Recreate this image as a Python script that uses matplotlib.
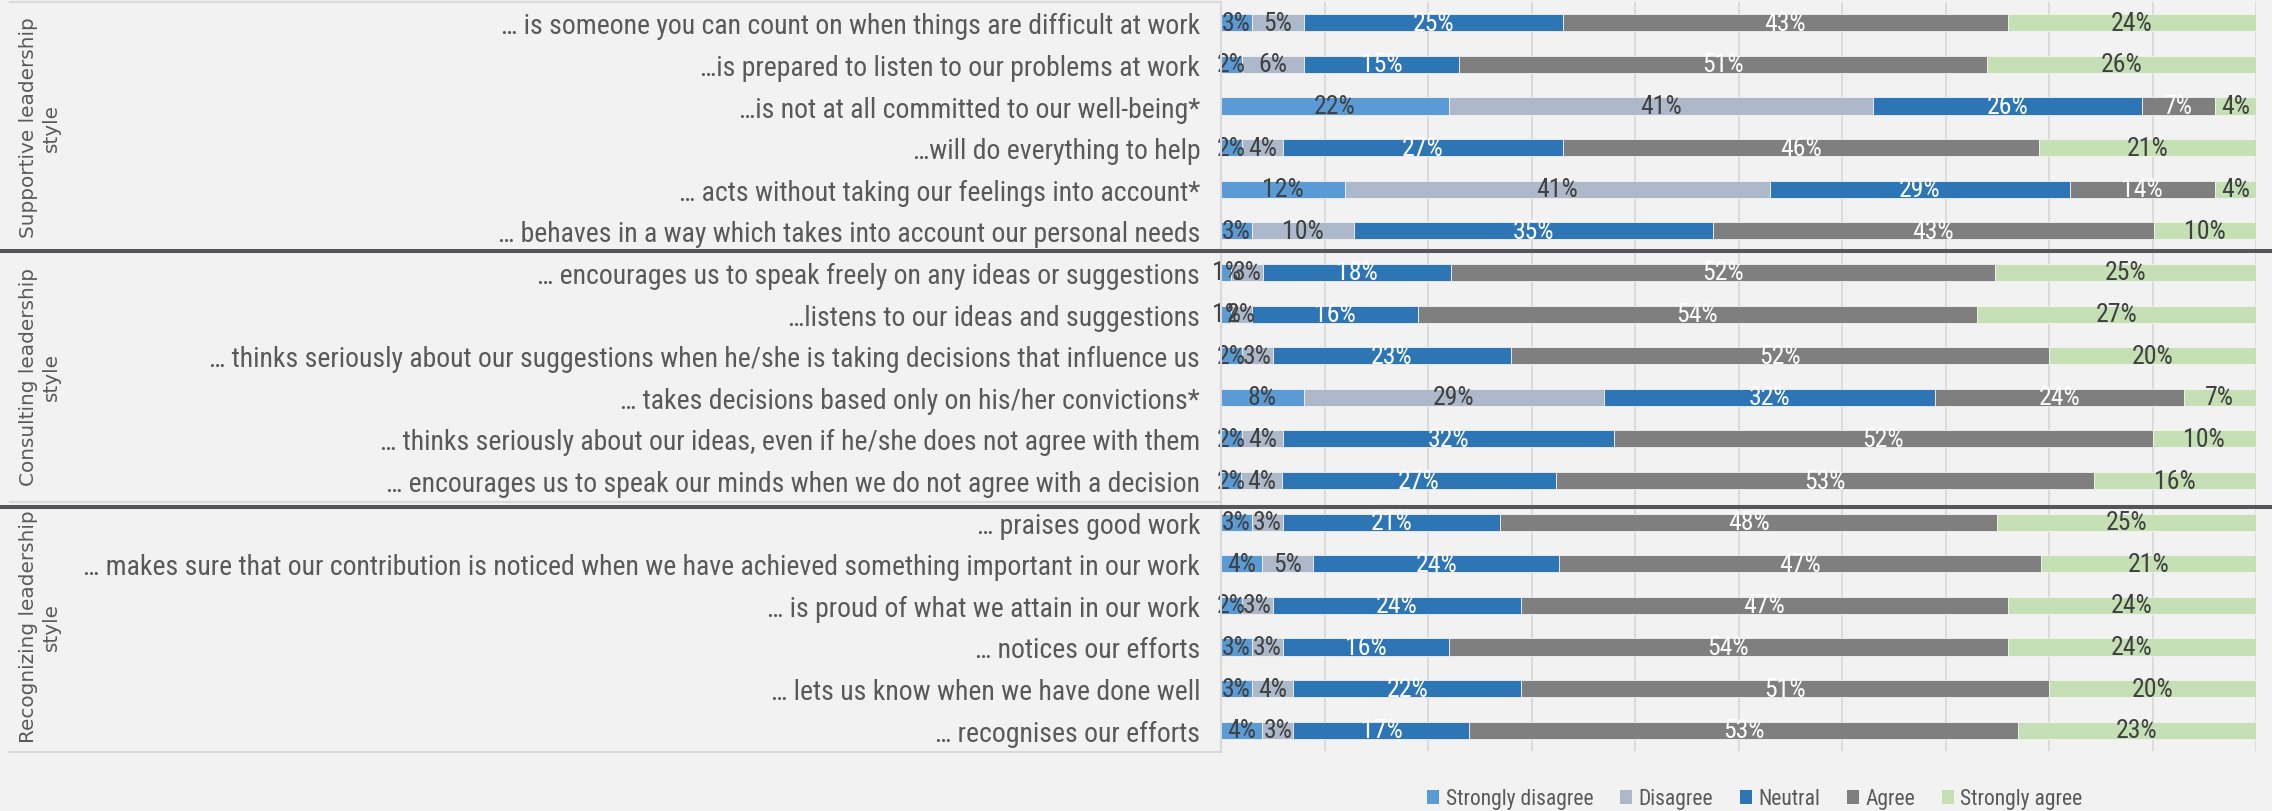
import matplotlib
matplotlib.use("Agg")
import matplotlib.pyplot as plt
import numpy as np
from matplotlib import font_manager as fm
from matplotlib.font_manager import FontProperties
from matplotlib.lines import Line2D
from matplotlib.patches import Patch
from matplotlib import transforms

# survey items, top to bottom
items = [
    "… is someone you can count on when things are difficult at work",
    "…is prepared to listen to our problems at work",
    "…is not at all committed to our well-being*",
    "…will do everything to help",
    "… acts without taking our feelings into account*",
    "… behaves in a way which takes into account our personal needs",
    "… encourages us to speak freely on any ideas or suggestions",
    "…listens to our ideas and suggestions",
    "… thinks seriously about our suggestions when he/she is taking decisions that influence us",
    "… takes decisions based only on his/her convictions*",
    "… thinks seriously about our ideas, even if he/she does not agree with them",
    "… encourages us to speak our minds when we do not agree with a decision",
    "… praises good work",
    "… makes sure that our contribution is noticed when we have achieved something important in our work",
    "… is proud of what we attain in our work",
    "… notices our efforts",
    "… lets us know when we have done well",
    "… recognises our efforts",
]

groups = ["Supportive leadership\nstyle", "Consulting leadership\nstyle", "Recognizing leadership\nstyle"]
group_rows = [(0, 5), (6, 11), (12, 17)]

answers = ["Strongly disagree", "Disagree", "Neutral", "Agree", "Strongly agree"]

strongly_disagree = [3, 2, 22, 2, 12, 3, 1, 1, 2, 8, 2, 2, 3, 4, 2, 3, 3, 4]
disagree          = [5, 6, 41, 4, 41, 10, 3, 2, 3, 29, 4, 4, 3, 5, 3, 3, 4, 3]
neutral           = [25, 15, 26, 27, 29, 35, 18, 16, 23, 32, 32, 27, 21, 24, 24, 16, 22, 17]
agree             = [43, 51, 7, 46, 14, 43, 52, 54, 52, 24, 52, 53, 48, 47, 47, 54, 51, 53]
strongly_agree    = [24, 26, 4, 21, 4, 10, 25, 27, 20, 7, 10, 16, 25, 21, 24, 24, 20, 23]

colors = ["#5B9BD5", "#ADB9CA", "#2E75B6", "#7F7F7F", "#C5E0B4"]
label_colors = ["#404040", "#404040", "white", "white", "#404040"]
bg = "#F2F2F2"
text_gray = "#595959"

# pick a narrow font for the category and value labels
names = {f.name for f in fm.fontManager.ttflist}
dv_cond = any(f.name == "DejaVu Sans" and str(f.stretch) in ("condensed", "semi-condensed")
              for f in fm.fontManager.ttflist)
if "Liberation Sans Narrow" in names:
    cond = FontProperties(family="Liberation Sans Narrow")
    item_size, val_size, leg_size = 19.5, 18, 16.5
elif "Roboto Condensed" in names:
    cond = FontProperties(family="Roboto Condensed")
    item_size, val_size, leg_size = 20, 18.5, 15.5
elif dv_cond:
    cond = FontProperties(family="DejaVu Sans", stretch="condensed")
    item_size, val_size, leg_size = 16.5, 15.5, 14
else:
    cond = FontProperties(family="Liberation Sans")
    item_size, val_size, leg_size = 16, 15.5, 14


def fp(size):
    p = cond.copy()
    p.set_size(size)
    return p


W, H = 2272, 812
fig = plt.figure(figsize=(W / 100, H / 100), dpi=100, facecolor=bg)
x0, x1, y0, y1 = 1221, 2256, 3, 752
ax = fig.add_axes([x0 / W, 1 - y1 / H, (x1 - x0) / W, (y1 - y0) / H])
ax.set_facecolor(bg)

data = np.array([strongly_disagree, disagree, neutral, agree, strongly_agree], dtype=float)
totals = data.sum(axis=0)
shares = data / totals * 100
ypos = np.arange(len(items))

left = np.zeros(len(items))
for k in range(len(answers)):
    ax.barh(ypos, shares[k], left=left, height=0.41, color=colors[k],
            edgecolor=bg, linewidth=0.6, label=answers[k], zorder=2)
    for i in range(len(items)):
        ax.text(left[i] + shares[k][i] / 2, ypos[i], f"{int(data[k][i])}%",
                ha="center", va="center", color=label_colors[k],
                fontproperties=fp(val_size), zorder=3)
    left += shares[k]

ax.set_xlim(0, 100)
ax.set_ylim(len(items) - 0.5, -0.5)
ax.set_xticks(np.arange(0, 101, 10))
ax.set_xticklabels([])
ax.tick_params(axis="x", length=0)
ax.grid(axis="x", color="#D9D9D9", linewidth=1.3, zorder=0)
ax.set_axisbelow(True)
for s in ax.spines.values():
    s.set_visible(False)

ax.set_yticks(ypos)
ax.set_yticklabels(items, fontproperties=fp(item_size), color=text_gray)
ax.tick_params(axis="y", length=0, pad=15)

# group titles on the left
trans = transforms.blended_transform_factory(fig.transFigure, ax.transData)
for g, (a, b) in zip(groups, group_rows):
    fig.text(40 / W, (a + b) / 2, g, transform=trans, rotation=90,
             ha="center", va="center", multialignment="center",
             fontsize=14.4, color=text_gray, family="DejaVu Sans")

# thin frame lines of the category panel
for yy in [3, 252.6, 502.5, 752.5]:
    fig.add_artist(Line2D([10 / W, x0 / W], [1 - yy / H, 1 - yy / H],
                          color="#D9D9D9", linewidth=1.5, transform=fig.transFigure))
fig.add_artist(Line2D([x0 / W, x0 / W], [1 - y1 / H, 1 - y0 / H],
                      color="#D9D9D9", linewidth=1.5, transform=fig.transFigure))

# dark separators between the groups
for yy in [252, 508]:
    fig.add_artist(Line2D([0, 1], [1 - yy / H, 1 - yy / H], color="#54565A",
                          linewidth=2.9, transform=fig.transFigure, zorder=10))

handles = [Patch(facecolor=c, edgecolor="none") for c in colors]
fig.legend(handles, answers, loc="center", bbox_to_anchor=(1755 / W, 1 - 800 / H),
           ncol=5, frameon=False, prop=fp(leg_size), labelcolor=text_gray,
           handlelength=0.55, handleheight=0.6, handletextpad=0.3,
           columnspacing=1.25, borderaxespad=0, borderpad=0)

fig.savefig("out.png", dpi=100, facecolor=bg)
